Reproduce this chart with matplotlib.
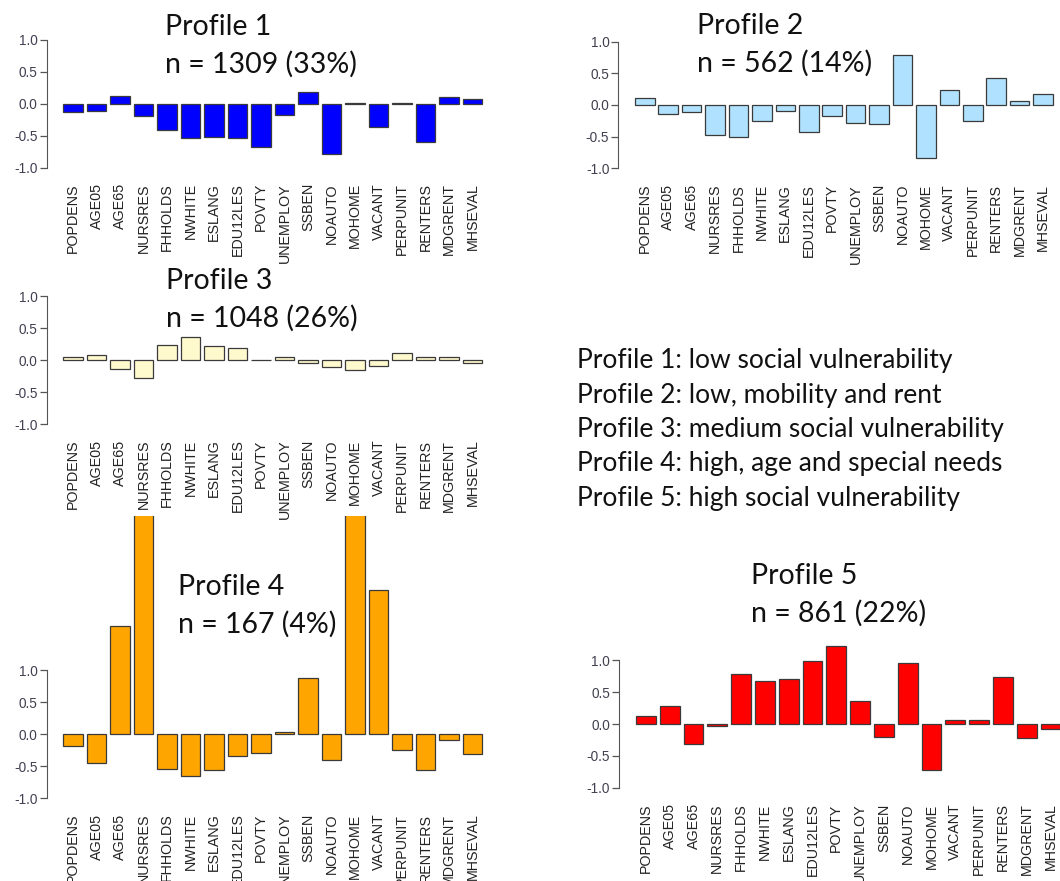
import matplotlib.pyplot as plt
import numpy as np

plt.rcParams['axes.unicode_minus'] = False

variables = ['POPDENS', 'AGE05', 'AGE65', 'NURSRES', 'FHHOLDS', 'NWHITE', 'ESLANG',
             'EDU12LES', 'POVTY', 'UNEMPLOY', 'SSBEN', 'NOAUTO', 'MOHOME', 'VACANT',
             'PERPUNIT', 'RENTERS', 'MDGRENT', 'MHSEVAL']

profile1 = [-0.13, -0.115, 0.125, -0.20, -0.41, -0.53, -0.515, -0.54, -0.67, -0.17,
            0.18, -0.79, 0.005, -0.365, 0.01, -0.60, 0.105, 0.07]
profile2 = [0.105, -0.14, -0.115, -0.48, -0.50, -0.25, -0.09, -0.43, -0.17, -0.28,
            -0.30, 0.78, -0.83, 0.24, -0.25, 0.425, 0.06, 0.17]
profile3 = [0.04, 0.08, -0.14, -0.28, 0.24, 0.365, 0.225, 0.18, -0.005, 0.05,
            -0.05, -0.115, -0.155, -0.10, 0.105, 0.05, 0.04, -0.05]
profile4 = [-0.18, -0.45, 1.68, 4.0, -0.55, -0.66, -0.57, -0.35, -0.30, 0.025,
            0.87, -0.40, 4.5, 2.25, -0.255, -0.56, -0.09, -0.32]
profile5 = [0.13, 0.28, -0.31, -0.025, 0.79, 0.67, 0.70, 0.985, 1.22, 0.365,
            -0.20, 0.96, -0.72, 0.06, 0.06, 0.73, -0.225, -0.085]

titles = ['Profile 1', 'Profile 2', 'Profile 3', 'Profile 4', 'Profile 5']
counts = ['n = 1309 (33%)', 'n = 562 (14%)', 'n = 1048 (26%)', 'n = 167 (4%)', 'n = 861 (22%)']
colors = ['#0000ff', '#b0e2ff', '#fffacd', '#ffa500', '#ff0000']

descriptions = ['Profile 1: low social vulnerability',
                'Profile 2: low, mobility and rent',
                'Profile 3: medium social vulnerability',
                'Profile 4: high, age and special needs',
                'Profile 5: high social vulnerability']

W, H = 1060, 881
fig = plt.figure(figsize=(W / 100, H / 100), dpi=100)

TEXT_FONT = ['Lato', 'DejaVu Sans']


def add_panel(values, color, bar_left, bar_step, y_zero, y_scale, top=None):
    # pixel positions (y counted from the top)
    x_scale = bar_step / 1.2
    x_lo, x_hi = -0.656, 22.456
    y_lo = -1.08
    y_hi = 1.08 if top is None else (y_zero - top) / y_scale
    left = bar_left + (x_lo - 0.2) * x_scale
    bottom = y_zero - y_lo * y_scale
    ax = fig.add_axes([left / W, (H - bottom) / H,
                       (x_hi - x_lo) * x_scale / W, (y_hi - y_lo) * y_scale / H])
    pos = 0.7 + 1.2 * np.arange(len(variables))
    # bars may run past the plot region, except where the panel is cut off
    ax.bar(pos, values, width=1.0, color=color, edgecolor='#3a3a3a', linewidth=0.9,
           clip_on=top is not None)
    ax.set_xlim(x_lo, x_hi)
    ax.set_ylim(y_lo, y_hi)
    for s in ['top', 'right', 'bottom']:
        ax.spines[s].set_visible(False)
    ax.spines['left'].set_bounds(-1, 1)
    ax.spines['left'].set_color('#555555')
    ax.set_yticks([-1, -0.5, 0, 0.5, 1])
    ax.set_yticklabels(['-1.0', '-0.5', '0.0', '0.5', '1.0'], fontsize=9.8,
                       family='Liberation Sans', color='#404050')
    ax.tick_params(axis='y', length=5, width=0.9, color='#555555', pad=1.5)
    ax.set_xticks(pos)
    ax.set_xticklabels(variables, rotation=90, fontsize=10.3,
                       family='Liberation Sans', color='#222222')
    ax.tick_params(axis='x', length=0, pad=7.5)
    ax.patch.set_alpha(0)
    return ax


add_panel(profile1, colors[0], 63.3, 23.5, 103.7, 64)
add_panel(profile2, colors[1], 635, 23.43, 105, 63.5)
add_panel(profile3, colors[2], 63.3, 23.5, 360, 64)
add_panel(profile4, colors[3], 63.3, 23.5, 734, 64, top=515.7)
add_panel(profile5, colors[4], 636, 23.8, 724, 63.8)

# panel titles: (x, baseline of first line, baseline of second line)
title_pos = [(165, 35, 73), (697, 34, 72), (166, 289, 327), (178, 595, 633), (751, 584, 622)]
for (tx, ty1, ty2), t, c in zip(title_pos, titles, counts):
    fig.text(tx / W, 1 - ty1 / H, t, fontsize=20.5, family=TEXT_FONT, va='baseline', color='#111111')
    fig.text(tx / W, 1 - ty2 / H, c, fontsize=20.5, family=TEXT_FONT, va='baseline', color='#111111')

for i, d in enumerate(descriptions):
    fig.text(577 / W, 1 - (368 + 34.5 * i) / H, d, fontsize=19, family=TEXT_FONT,
             va='baseline', color='#111111')

fig.savefig('out.png', dpi=100)
